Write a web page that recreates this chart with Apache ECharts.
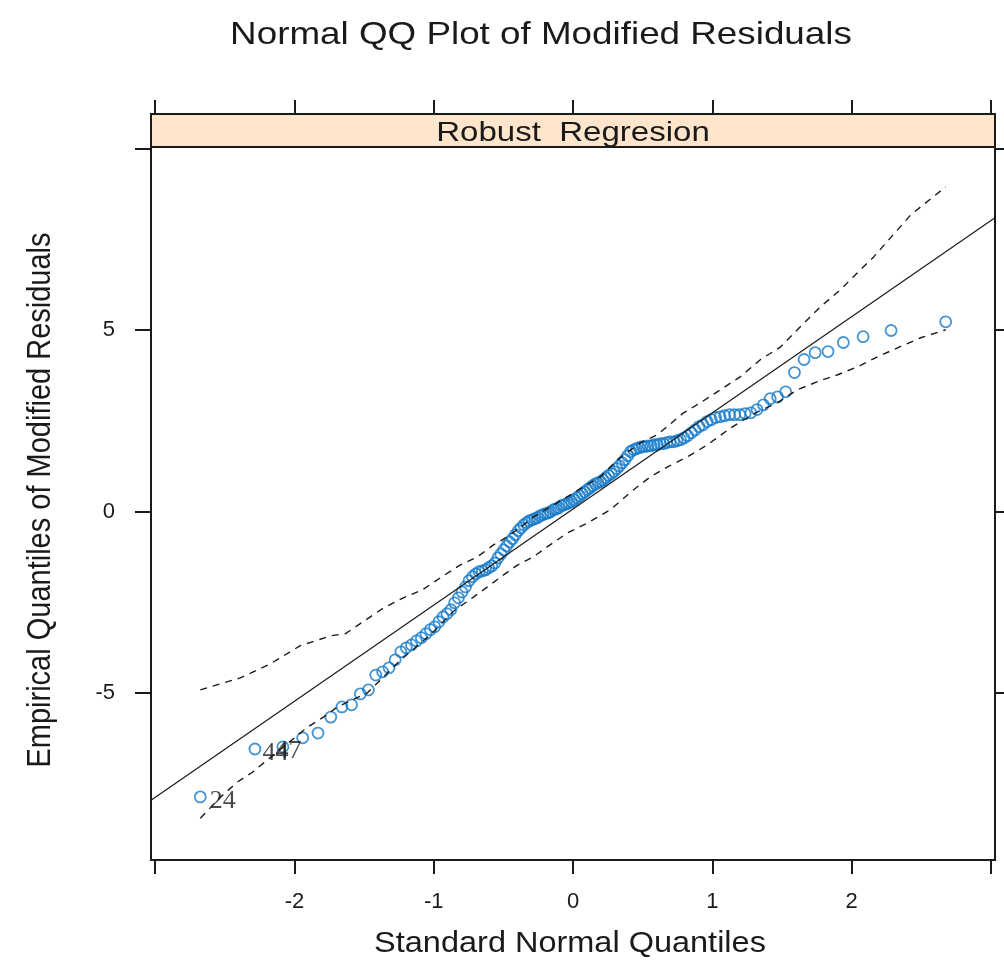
<!DOCTYPE html>
<html>
<head>
<meta charset="utf-8">
<script src="https://cdn.jsdelivr.net/npm/echarts@6/dist/echarts.min.js"></script>
<style>
html,body{margin:0;padding:0;background:#fff;}
#chart{width:1004px;height:960px;}
</style>
</head>
<body>
<div id="chart"></div>
<script>
// ---- data ----
const titleText = 'Normal QQ Plot of Modified Residuals';
const stripText = 'Robust  Regresion';
const xAxisName = 'Standard Normal Quantiles';
const yAxisName = 'Empirical Quantiles of Modified Residuals';

// theoretical normal quantiles (x) of the 134 points
const normQuant = [-2.676,-2.284,-2.083,-1.941,-1.831,-1.739,-1.659,-1.590,-1.527,-1.469,-1.416,-1.367,-1.321,-1.277,-1.236,-1.197,-1.160,-1.124,-1.089,-1.056,-1.024,-0.993,-0.963,-0.933,-0.905,-0.877,-0.850,-0.823,-0.797,-0.772,-0.747,-0.722,-0.698,-0.674,-0.651,-0.628,-0.606,-0.583,-0.561,-0.539,-0.518,-0.497,-0.476,-0.455,-0.434,-0.414,-0.393,-0.373,-0.353,-0.333,-0.314,-0.294,-0.275,-0.255,-0.236,-0.217,-0.198,-0.179,-0.160,-0.141,-0.122,-0.103,-0.084,-0.066,-0.047,-0.028,-0.009,
0.009,0.028,0.047,0.066,0.084,0.103,0.122,0.141,0.160,0.179,0.198,0.217,0.236,0.255,0.275,0.294,0.314,0.333,0.353,0.373,0.393,0.414,0.434,0.455,0.476,0.497,0.518,0.539,0.561,0.583,0.606,0.628,0.651,0.674,0.698,0.722,0.747,0.772,0.797,0.823,0.850,0.877,0.905,0.933,0.963,0.993,1.024,1.056,1.089,1.124,1.160,1.197,1.236,1.277,1.321,1.367,1.416,1.469,1.527,1.590,1.659,1.739,1.831,1.941,2.083,2.284,2.676];

// sorted modified residuals (y)
const residuals = [-7.87,-6.55,-6.49,-6.24,-6.11,-5.67,-5.39,-5.33,-5.03,-4.92,-4.51,-4.42,-4.31,-4.09,-3.87,-3.76,-3.68,-3.57,-3.48,-3.37,-3.26,-3.18,-3.04,-2.91,-2.82,-2.71,-2.52,-2.38,-2.22,-2.08,-1.91,-1.80,-1.72,-1.66,-1.64,-1.61,-1.55,-1.50,-1.42,-1.28,-1.17,-1.06,-0.95,-0.84,-0.75,-0.64,-0.53,-0.45,-0.37,-0.31,-0.26,-0.23,-0.20,-0.17,-0.12,-0.09,-0.06,-0.04,-0.01,0.05,0.07,0.10,0.16,0.18,0.21,0.24,0.27,
0.32,0.38,0.43,0.49,0.54,0.60,0.65,0.71,0.76,0.79,0.82,0.87,0.93,0.99,1.04,1.10,1.18,1.26,1.34,1.43,1.54,1.65,1.70,1.73,1.76,1.79,1.79,1.81,1.81,1.84,1.84,1.87,1.87,1.90,1.92,1.92,1.95,1.98,2.03,2.09,2.17,2.25,2.34,2.39,2.48,2.53,2.59,2.61,2.64,2.67,2.67,2.67,2.70,2.72,2.81,2.94,3.11,3.16,3.30,3.83,4.19,4.38,4.41,4.66,4.82,4.99,5.23];

// identified points (index into the sorted arrays) and their labels
const idIndex = [0, 1, 2];
const idLabels = ['24', '44', '47'];

// reference line end points
const refX = [-3.03, 3.03];
const refY = [-7.96, 8.10];

// simulation envelope (upper / lower)
const upperX = [-2.676,-2.389,-2.173,-1.958,-1.742,-1.634,-1.361,-1.218,-1.081,-0.952,-0.808,-0.686,-0.571,-0.471,-0.356,-0.284,-0.040,0.198,0.320,0.485,0.607,0.794,0.916,1.060,1.203,1.347,1.491,1.634,1.778,1.922,2.015,2.159,2.425,2.676];
const upperY = [-4.92,-4.59,-4.20,-3.70,-3.43,-3.37,-2.66,-2.38,-2.16,-1.83,-1.47,-1.25,-0.92,-0.70,-0.37,-0.15,0.41,0.96,1.43,1.90,2.12,2.72,3.00,3.36,3.72,4.19,4.54,5.10,5.65,6.12,6.48,7.02,8.18,8.95];
const lowerX = [-2.676,-2.532,-2.410,-2.302,-1.907,-1.792,-1.692,-1.476,-1.239,-1.024,-0.858,-0.715,-0.614,-0.521,-0.399,-0.284,-0.183,-0.040,0.104,0.269,0.435,0.557,0.679,0.823,0.966,1.131,1.300,1.469,1.613,1.756,1.900,2.044,2.188,2.353,2.496,2.676];
const lowerY = [-8.46,-7.88,-7.46,-7.19,-5.95,-5.67,-5.39,-5.00,-4.10,-3.40,-2.75,-2.36,-2.08,-1.81,-1.48,-1.25,-0.97,-0.59,-0.32,0.05,0.60,0.96,1.23,1.51,1.84,2.30,2.70,3.00,3.36,3.58,3.77,3.99,4.27,4.55,4.79,5.01];

// axis ticks / labels
const xTicks = [-3, -2, -1, 0, 1, 2, 3];
const xLabels = [-2, -1, 0, 1, 2];
const yTicks = [-5, 0, 5, 10];
const yLabels = [-5, 0, 5];
const xMin = -3.03, xMax = 3.03;
const yMin = -9.61, yMax = 10.05;

// ---- chart ----
const chart = echarts.init(document.getElementById('chart'), null, {renderer: 'canvas'});
const FONT = '"Liberation Sans", Arial, sans-serif';
const SERIF = '"Liberation Serif", "Times New Roman", serif';
const INK = '#1a1a1a';

const pts = normQuant.map((x, i) => [x, residuals[i]]);
const pair = (xs, ys) => xs.map((x, i) => [x, ys[i]]);

const gridL = 151, gridR = 9, gridT = 147, gridB = 100;

const tickStyle = {show: true, inside: false, lineStyle: {color: INK, width: 2}};
const noLine = {show: false, onZero: false};
// per-label pixel nudges for the identified-point labels
const idOffsets = [[2, 4], [0, 4], [-15, 4]];

const option = {
  animation: false,
  backgroundColor: '#fff',
  grid: {left: gridL, right: gridR, top: gridT, bottom: gridB, show: true, borderColor: INK, borderWidth: 2, backgroundColor: 'transparent'},
  xAxis: [
    {type: 'value', min: xMin, max: xMax, position: 'bottom',
     axisLine: noLine, splitLine: {show: false},
     axisTick: Object.assign({length: 14, customValues: xTicks}, tickStyle),
     axisLabel: {customValues: xLabels, margin: 31, fontSize: 22, fontFamily: FONT, color: INK}},
    {type: 'value', min: xMin, max: xMax, position: 'top', offset: 33,
     axisLine: noLine, splitLine: {show: false},
     axisTick: Object.assign({length: 14, customValues: xTicks}, tickStyle),
     axisLabel: {show: false}}
  ],
  yAxis: [
    {type: 'value', min: yMin, max: yMax, position: 'left',
     axisLine: noLine, splitLine: {show: false},
     axisTick: Object.assign({length: 16, customValues: yTicks}, tickStyle),
     axisLabel: {customValues: yLabels, margin: 36, fontSize: 22, fontFamily: FONT, color: INK}},
    {type: 'value', min: yMin, max: yMax, position: 'right',
     axisLine: noLine, splitLine: {show: false},
     axisTick: Object.assign({length: 12, customValues: yTicks}, tickStyle),
     axisLabel: {show: false}}
  ],
  graphic: [
    {type: 'rect', shape: {x: gridL, y: 114, width: 1004 - gridR - gridL, height: gridT - 114},
     style: {fill: '#ffe5cc', stroke: INK, lineWidth: 2}, z: 10},
    {type: 'text', x: 573, y: 133, scaleX: 1.18, z: 11,
     style: {text: stripText, fontSize: 28, fontFamily: FONT, fill: INK, textAlign: 'center', textVerticalAlign: 'middle', align: 'center', verticalAlign: 'middle'}},
    {type: 'text', x: 541, y: 35, scaleX: 1.15, z: 11,
     style: {text: titleText, fontSize: 32, fontFamily: FONT, fill: INK, textAlign: 'center', textVerticalAlign: 'middle', align: 'center', verticalAlign: 'middle'}},
    {type: 'text', x: 570, y: 944, scaleX: 1.12, z: 11,
     style: {text: xAxisName, fontSize: 29, fontFamily: FONT, fill: INK, textAlign: 'center', textVerticalAlign: 'middle', align: 'center', verticalAlign: 'middle'}},
    {type: 'text', x: 41, y: 500, rotation: Math.PI / 2, scaleY: 1.12, z: 11,
     style: {text: yAxisName, fontSize: 29, fontFamily: FONT, fill: INK, textAlign: 'center', textVerticalAlign: 'middle', align: 'center', verticalAlign: 'middle'}}
  ],
  series: [
    {type: 'scatter', name: 'residuals', data: pts, symbol: 'circle', symbolSize: 11,
     itemStyle: {color: 'rgba(0,0,0,0)', borderColor: '#1479c9', borderWidth: 1.8}, z: 3},
    {type: 'line', name: 'reference', data: pair(refX, refY), symbol: 'none',
     lineStyle: {color: INK, width: 1.2}, z: 4},
    {type: 'line', name: 'upper', data: pair(upperX, upperY), symbol: 'none',
     lineStyle: {color: INK, width: 1.4, type: [7, 6]}, z: 4},
    {type: 'line', name: 'lower', data: pair(lowerX, lowerY), symbol: 'none',
     lineStyle: {color: INK, width: 1.4, type: [7, 6]}, z: 4},
    {type: 'scatter', name: 'ids', symbol: 'circle', symbolSize: 1, z: 5,
     itemStyle: {color: 'rgba(0,0,0,0)'},
     data: idIndex.map((k, j) => ({value: pts[k], name: idLabels[j], label: {offset: idOffsets[j]}})),
     label: {show: true, position: 'right', distance: 7, formatter: p => p.name,
             fontFamily: SERIF, fontSize: 26, color: INK}}
  ]
};
chart.setOption(option);
</script>
</body>
</html>
